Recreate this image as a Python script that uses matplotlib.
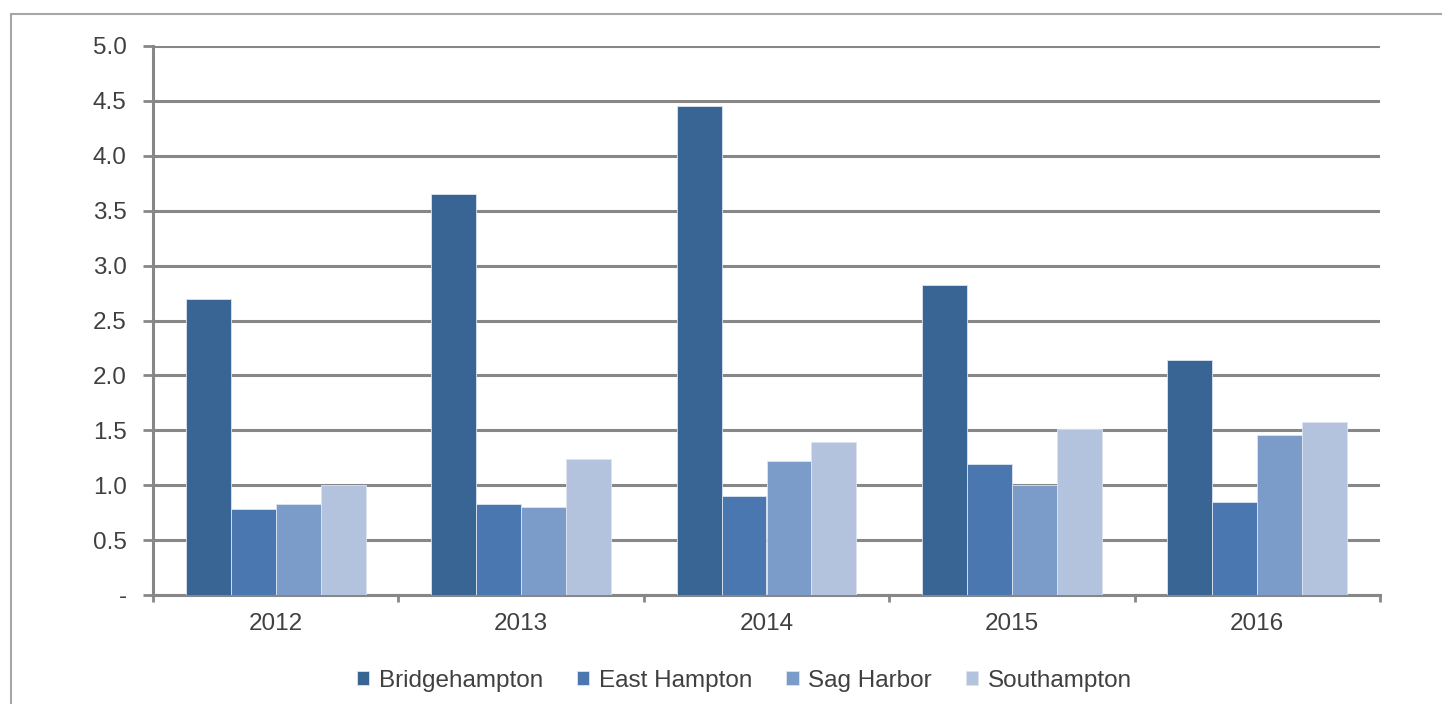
import matplotlib.pyplot as plt
import numpy as np
from matplotlib.patches import Rectangle

years = ["2012", "2013", "2014", "2015", "2016"]
series_names = ["Bridgehampton", "East Hampton", "Sag Harbor", "Southampton"]
bridgehampton = [2.70, 3.65, 4.45, 2.82, 2.14]
east_hampton = [0.78, 0.83, 0.90, 1.19, 0.85]
sag_harbor = [0.83, 0.80, 1.22, 1.00, 1.46]
southampton = [1.00, 1.24, 1.39, 1.51, 1.58]
y_ticks = [0.0, 0.5, 1.0, 1.5, 2.0, 2.5, 3.0, 3.5, 4.0, 4.5, 5.0]
y_tick_labels = ["-", "0.5", "1.0", "1.5", "2.0", "2.5", "3.0", "3.5", "4.0", "4.5", "5.0"]

colors = ["#386594", "#4a77b0", "#7b9bc9", "#b3c3de"]
grid_grey = "#878787"
text_grey = "#404040"

plt.rcParams["font.family"] = ["Liberation Sans", "DejaVu Sans"]

W, H = 1442, 704
fig = plt.figure(figsize=(W / 100, H / 100), dpi=100)

# outer frame (runs off the right and bottom edges)
fig.patches.append(Rectangle((11 / W, -0.1), 1.2, 1 - 14 / H + 0.1,
                             transform=fig.transFigure, fill=False,
                             edgecolor="#a6a6a6", linewidth=1.5))

left, right, top, bottom = 153, 1380, 46, 595
ax = fig.add_axes([left / W, 1 - bottom / H, (right - left) / W, (bottom - top) / H])

x = np.arange(len(years))
bar_w = 0.183
all_series = [bridgehampton, east_hampton, sag_harbor, southampton]
for i, (name, vals) in enumerate(zip(series_names, all_series)):
    offset = (i - 1.5) * bar_w
    ax.bar(x + offset, vals, width=bar_w, color=colors[i], label=name,
           edgecolor="#dde4f0", linewidth=0.6, zorder=3)

ax.set_xlim(-0.5, len(years) - 0.5)
ax.set_ylim(0, 5.0)
ax.set_yticks(y_ticks)
ax.set_yticklabels(y_tick_labels)
ax.set_xticks(x)
ax.set_xticklabels(years)
ax.set_xticks(np.arange(-0.5, len(years)), minor=True)

ax.yaxis.grid(True, color=grid_grey, linewidth=2.2, zorder=0)
ax.set_axisbelow(True)
for side in ["top", "right"]:
    ax.spines[side].set_visible(False)
for side in ["left", "bottom"]:
    ax.spines[side].set_color(grid_grey)
    ax.spines[side].set_linewidth(2.2)

fs = 17.5
ax.tick_params(axis="y", length=7, width=2, color=grid_grey, labelcolor=text_grey,
               labelsize=fs, pad=12)
ax.tick_params(axis="x", which="major", length=0, labelcolor=text_grey,
               labelsize=fs, pad=13)
ax.tick_params(axis="x", which="minor", length=5, width=2, color=grid_grey)

ax.legend(loc="center", bbox_to_anchor=(0.482, -0.156), ncol=4, frameon=False,
          fontsize=fs, labelcolor=text_grey, handlelength=0.5, handleheight=0.5,
          handletextpad=0.4, columnspacing=1.4)

fig.savefig("out.png", dpi=100)
